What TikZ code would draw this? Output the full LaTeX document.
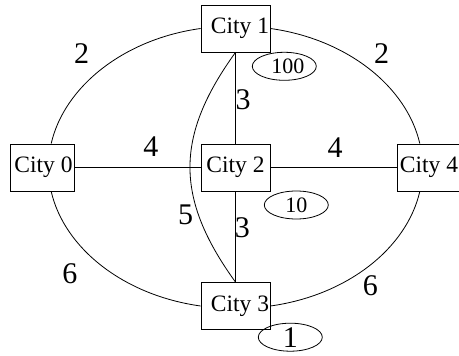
\documentclass[tikz,border=0pt]{standalone}
\usepackage{fontspec}
\setmainfont{Liberation Serif}
\usetikzlibrary{shapes.geometric}
\begin{document}
\begin{tikzpicture}[x=1pt,y=-1pt,line width=0.8pt,
  city/.style={draw, rectangle, minimum width=#1, minimum height=47pt,
    inner sep=0pt, font=\fontsize{23.5}{28}\selectfont},
  city/.default=69pt,
  cost/.style={draw, ellipse, minimum width=64pt, minimum height=28pt,
    inner sep=0pt, font=\fontsize{22}{26}\selectfont},
  lab/.style={inner sep=0pt, font=\fontsize{30}{36}\selectfont}]
\clip (0,0) rectangle (459,356);
% cities
\node[city=64pt] (c0) at (42,167.5) {\hspace*{3pt}City 0};
\node[city] (c1) at (235.5,28.5) {\hspace*{9pt}City 1};
\node[city] (c2) at (235.5,167.5) {City 2};
\node[city] (c3) at (235.5,306) {\hspace*{9pt}City 3};
\node[city=64pt] (c4) at (429,167.5) {City 4};
% cost ellipses
\node[cost] (e1) at (284.3,66.3) {\hspace*{7pt}100};
\node[cost] (e2) at (296.3,205) {10};
\node[cost, font=\fontsize{30}{36}\selectfont] (e3) at (290.3,337.2) {1};
% straight connectors
\draw (c0) -- (c2);
\draw (c2) -- (c4);
\draw (c1) -- (c2);
\draw (c2) -- (c3);
% outer arcs
\draw (c0.69) .. controls +(13.2,-57.2) and +(-76.6,10.6) .. (c1.west);
\draw (c1.east) .. controls +(76.6,10.6) and +(-13.2,-57.2) .. (c4.111);
\draw (c0.-69) .. controls +(13.2,57.2) and +(-76.6,-10.6) .. (c3.west);
\draw (c3.east) .. controls +(76.6,-10.6) and +(-13.2,57.2) .. (c4.-111);
% inner curve
\draw (c1.south) .. controls +(-60.7,84) and +(-60.7,-84) .. (c3.north);
% edge labels
\node[lab] (w01) at (81.7,53.7) {2};
\node[lab] (w14) at (381.5,53.7) {2};
\node[lab] (w02) at (150.8,146.7) {4};
\node[lab] (w24) at (335,147.5) {4};
\node[lab] (w12) at (243,100) {3};
\node[lab] (w23) at (242.3,227.7) {3};
\node[lab] (w13) at (185.5,214.8) {5};
\node[lab] (w03) at (70,273.8) {6};
\node[lab] (w34) at (370.3,285.7) {6};
\end{tikzpicture}
\end{document}
